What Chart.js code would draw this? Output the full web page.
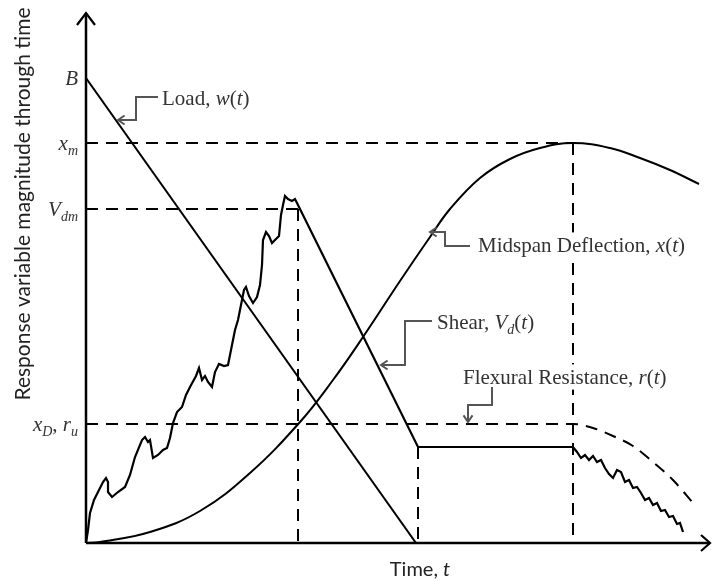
<!DOCTYPE html>
<html><head><meta charset="utf-8">
<script src="https://cdn.jsdelivr.net/npm/chart.js@4.4.0/dist/chart.umd.min.js"></script>
<style>html,body{margin:0;padding:0;background:#fff}#wrap{width:712px;height:581px;position:relative}</style>
</head><body><div id="wrap"><canvas id="c"></canvas></div>
<script>
// ---- data (time units, magnitude units) ----
const loadT = [0, 330];
const loadW = [465, 0];

const shearT = [0,2,4,8,12,17,20,22,22,26,32,39,44,49,56,59,62,64,67,72,77,81,84,87,91,96,100,104,110,113,116,119,122,126,129,133,138,142,146,149,152,155,158,160,163,167,171,174,176,177,180,183,186,190,193,195,197,199,202,206,209,212,332,487,491,495,499,503,507,511,515,519,523,527,531,535,539,543,547,551,555,559,563,567,571,575,579,583,587,591,594,597];
const shearV = [0,13,30,43,51,61,65,61,51,46,51,56,68,86,103,106,101,103,85,88,93,95,105,120,131,136,148,156,167,175,163,167,161,156,171,179,177,178,198,213,223,238,253,256,247,240,246,258,278,303,311,307,300,304,307,328,338,347,344,342,344,338,96,96,91,85,88,83,87,81,83,75,69,65,73,71,61,63,55,56,50,43,45,38,40,32,33,26,27,19,20,11];

const deflT = [0,14,64,114,164,214,247,277,314,344,364,394,424,454,487,524,554,584,613];
const deflX = [0,1,11,32,70,121,163,206,262,306,334,365,384,395,400,395,385,373,359];

const resT = [0,487,507,527,547,567,587,607];
const resR = [119,119,115,107,97,81,63,40];

// reference levels and event times
const tickValues = [465, 400, 334, 119];
const tickLabels = ['*B*', '*x*_{m}', '*V*_{dm}', '*x*_{D}, *r*_{u}'];
const eventT = [212, 332, 487];
const eventTop = [334, 96, 400];
const levelEnd = [487, 212];
const levelVal = [400, 334];

// annotation layout (data units)
const notes = [
  {text:'Load, *w*(*t*)', at:[76,445], path:[[72,446],[50,446],[50,423],[32,423]]},
  {text:'Midspan Deflection, *x*(*t*)', at:[392,298], path:[[384,297],[359,297],[359,311],[344,311]]},
  {text:'Shear, *V*_{d}(*t*)', at:[351,221], path:[[346,222],[319,222],[319,178],[295,178]]},
  {text:'Flexural Resistance, *r*(*t*)', at:[377,166], path:[[406,156],[406,138],[382,138],[382,121]]}
];

const pts = (xs, ys) => xs.map((v,i)=>({x:v, y:ys[i]}));
const solid = {showLine:true, pointRadius:0, borderColor:'#000', borderWidth:2, fill:false};
const dashed = {showLine:true, pointRadius:0, borderColor:'#000', borderWidth:2, borderDash:[12,8], fill:false};

const datasets = [
  Object.assign({label:'Load', data:pts(loadT, loadW)}, solid),
  Object.assign({label:'Shear', data:pts(shearT, shearV)}, solid, {borderWidth:2.2}),
  Object.assign({label:'Deflection', data:pts(deflT, deflX), tension:0.4}, solid),
  Object.assign({label:'Resistance', data:pts(resT, resR), cubicInterpolationMode:'monotone'}, dashed)
];
levelVal.forEach((v,i)=>datasets.push(Object.assign({label:'lvl'+i, data:[{x:0,y:v},{x:levelEnd[i],y:v}]}, dashed)));
eventT.forEach((t,i)=>datasets.push(Object.assign({label:'evt'+i, data:[{x:t,y:eventTop[i]},{x:t,y:0}]}, dashed)));

function parseRich(s){
  const out=[]; let it=false, i=0, buf='';
  const push=()=>{ if(buf){ out.push({t:buf, it, sub:false}); buf=''; } };
  while(i<s.length){
    const c=s[i];
    if(c==='*'){ push(); it=!it; i++; }
    else if(c==='_' && s[i+1]==='{'){ push(); const j=s.indexOf('}',i); out.push({t:s.slice(i+2,j), it:true, sub:true}); i=j+1; }
    else { buf+=c; i++; }
  }
  push();
  return out;
}
function drawRich(ctx, s, x, y, align, size, family, color, bg){
  const segs=parseRich(s);
  const sub=Math.round(size*0.66);
  const fontOf=g=>(g.it?'italic ':'')+(g.sub?sub:size)+'px '+family;
  let total=0;
  segs.forEach(g=>{ ctx.font=fontOf(g); g.w=ctx.measureText(g.t).width; total+=g.w; });
  let cx = align==='right' ? x-total : (align==='center' ? x-total/2 : x);
  if(bg){ ctx.fillStyle=bg; ctx.fillRect(cx-2, y-size*0.6, total+4, size*1.2); }
  ctx.fillStyle=color; ctx.textBaseline='alphabetic'; ctx.textAlign='left';
  const base=y+size*0.33;
  segs.forEach(g=>{ ctx.font=fontOf(g); ctx.fillText(g.t, cx, base+(g.sub?size*0.22:0)); cx+=g.w; });
}

const ann = {
  id:'ann',
  afterDatasetsDraw(chart){
    const {ctx, chartArea:a, scales:{x, y}} = chart;
    ctx.save();
    const serif='"Liberation Serif", "Times New Roman", serif';
    notes.forEach(n=>{
      drawRich(ctx, n.text, x.getPixelForValue(n.at[0]), y.getPixelForValue(n.at[1]), 'left', 21, serif, '#333', '#fff');
      const p=n.path.map(q=>[x.getPixelForValue(q[0]), y.getPixelForValue(q[1])]);
      ctx.strokeStyle='#555'; ctx.lineWidth=2;
      ctx.beginPath(); ctx.moveTo(p[0][0],p[0][1]);
      for(let k=1;k<p.length;k++) ctx.lineTo(p[k][0],p[k][1]);
      ctx.stroke();
      const e=p[p.length-1], s=p[p.length-2];
      const ang=Math.atan2(e[1]-s[1], e[0]-s[0]);
      const L=8, w=0.6;
      ctx.beginPath();
      ctx.moveTo(e[0]-L*Math.cos(ang-w), e[1]-L*Math.sin(ang-w));
      ctx.lineTo(e[0], e[1]);
      ctx.lineTo(e[0]-L*Math.cos(ang+w), e[1]-L*Math.sin(ang+w));
      ctx.stroke();
    });

    ctx.strokeStyle='#000'; ctx.lineWidth=2.5;
    ctx.beginPath(); ctx.moveTo(a.left, a.bottom); ctx.lineTo(a.left, a.top+1); ctx.stroke();
    ctx.beginPath(); ctx.moveTo(a.left, a.bottom); ctx.lineTo(a.right-1, a.bottom); ctx.stroke();
    ctx.lineWidth=2.2; ctx.lineJoin='miter';
    ctx.beginPath(); ctx.moveTo(a.left-9, a.top+13); ctx.lineTo(a.left, a.top+1); ctx.lineTo(a.left+9, a.top+13); ctx.stroke();
    ctx.beginPath(); ctx.moveTo(a.right-10, a.bottom-8); ctx.lineTo(a.right-1, a.bottom); ctx.lineTo(a.right-10, a.bottom+8); ctx.stroke();

    tickValues.forEach((v,i)=>drawRich(ctx, tickLabels[i], a.left-8, y.getPixelForValue(v), 'right', 21, serif, '#333'));

    const sans='Lato, "Open Sans", sans-serif';
    ctx.save();
    ctx.translate(23, 204); ctx.rotate(-Math.PI/2);
    ctx.fillStyle='#222'; ctx.font='21px '+sans; ctx.textAlign='center'; ctx.textBaseline='middle';
    ctx.fillText('Response variable magnitude through time', 0, 0);
    ctx.restore();
    drawRich(ctx, 'Time, *t*', 420, 569, 'center', 20, sans, '#222');
    ctx.restore();
  }
};

new Chart(document.getElementById('c'), {
  type:'scatter',
  data:{datasets},
  options:{
    responsive:true, maintainAspectRatio:false, animation:false,
    layout:{padding:{left:86, right:1, top:12, bottom:38}},
    plugins:{legend:{display:false}, tooltip:{enabled:false}},
    scales:{
      x:{type:'linear', min:0, max:625, display:false},
      y:{type:'linear', min:0, max:531, display:false}
    }
  },
  plugins:[ann]
});
</script>
</body></html>
